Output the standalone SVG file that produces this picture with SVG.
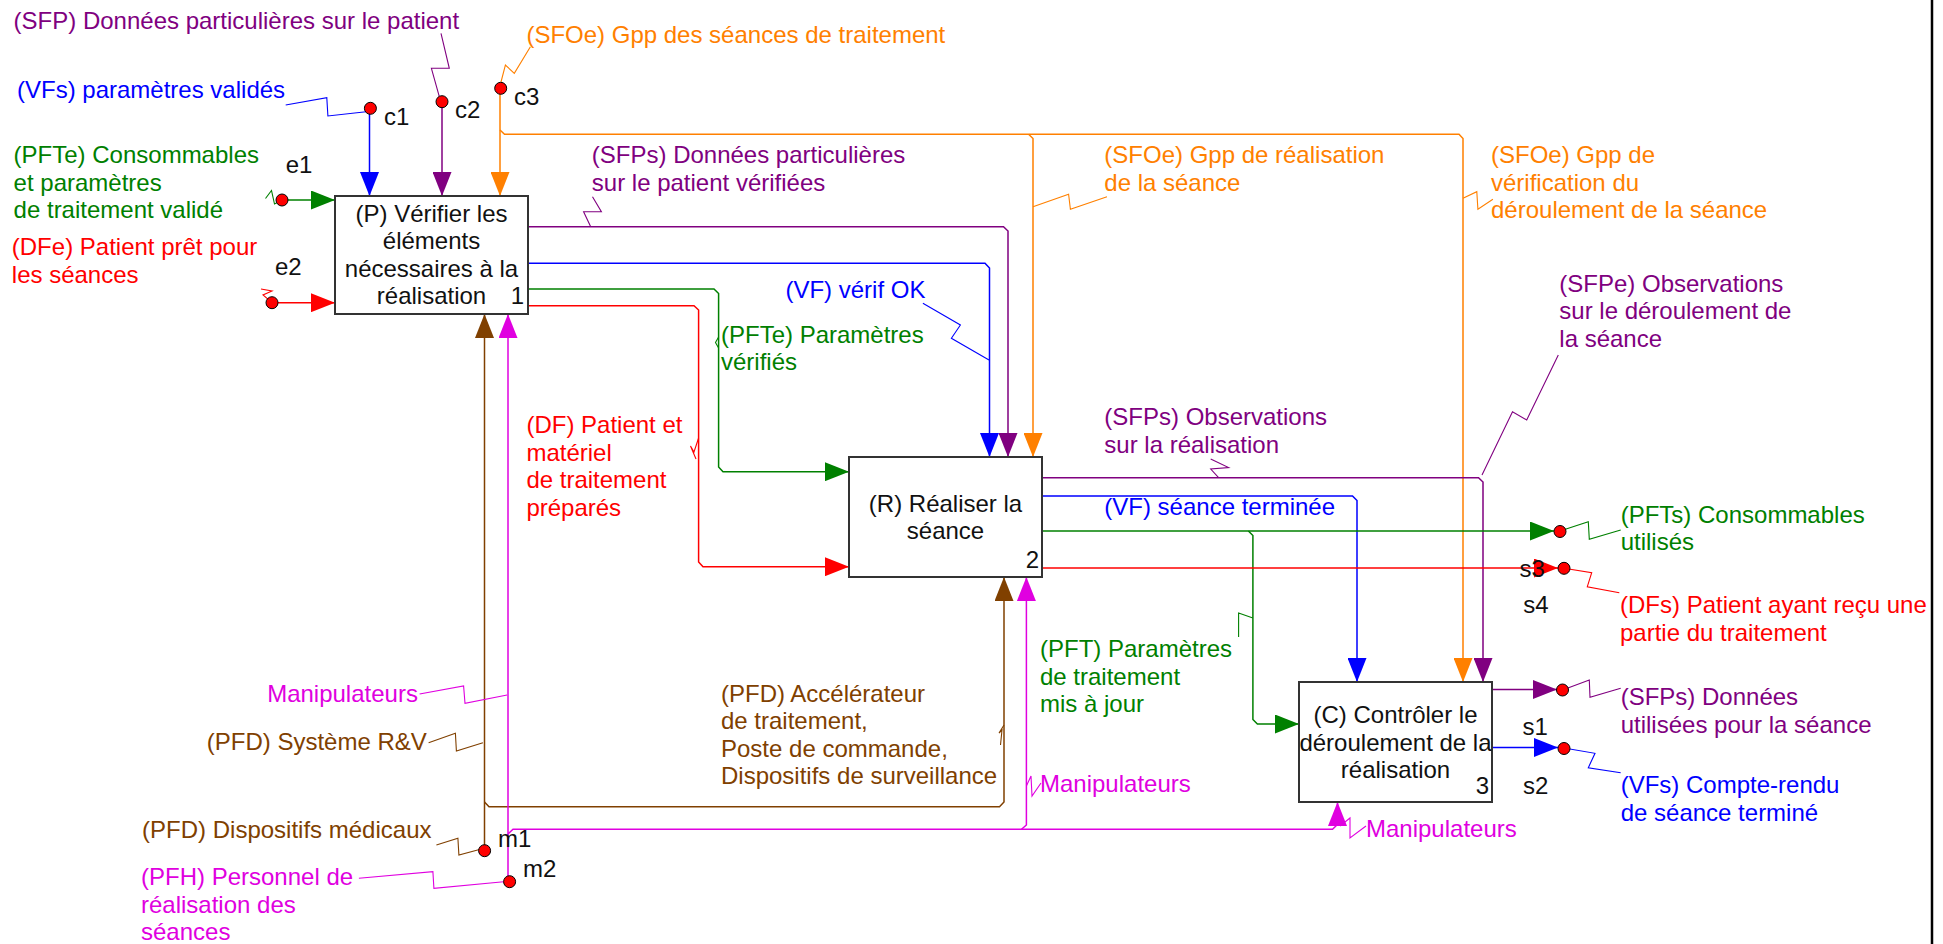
<svg xmlns="http://www.w3.org/2000/svg" width="1943" height="944" viewBox="0 0 1943 944">
<style>
text{font-family:"Liberation Sans",Arial,sans-serif;font-size:24px}
.box{fill:#fff;stroke:#333;stroke-width:2}
.nt{fill:#111;text-anchor:middle}
.num{fill:#111;text-anchor:end}
.k{fill:#111}
.c{fill:none;stroke-width:1.5}
.ld{fill:none;stroke-width:1.1}
.dot{fill:#f00;stroke:#000;stroke-width:1}
.bl{stroke:#0000ff}.pu{stroke:#800080}.or{stroke:#ff8000}.gr{stroke:#008000}.rd{stroke:#ff0000}.br{stroke:#804000}.mg{stroke:#e000e0}
.tbl{fill:#0000ff}.tpu{fill:#800080}.tor{fill:#ff8000}.tgr{fill:#008000}.trd{fill:#ff0000}.tbr{fill:#804000}.tmg{fill:#e000e0}
</style>
<defs>
<marker id="aBl" viewBox="0 0 24 19" refX="24" refY="9.5" markerWidth="24" markerHeight="19" markerUnits="userSpaceOnUse" orient="auto"><path d="M0,0L24,9.5L0,19z" fill="#0000ff"/></marker>
<marker id="aPu" viewBox="0 0 24 19" refX="24" refY="9.5" markerWidth="24" markerHeight="19" markerUnits="userSpaceOnUse" orient="auto"><path d="M0,0L24,9.5L0,19z" fill="#800080"/></marker>
<marker id="aOr" viewBox="0 0 24 19" refX="24" refY="9.5" markerWidth="24" markerHeight="19" markerUnits="userSpaceOnUse" orient="auto"><path d="M0,0L24,9.5L0,19z" fill="#ff8000"/></marker>
<marker id="aGr" viewBox="0 0 24 19" refX="24" refY="9.5" markerWidth="24" markerHeight="19" markerUnits="userSpaceOnUse" orient="auto"><path d="M0,0L24,9.5L0,19z" fill="#008000"/></marker>
<marker id="aRd" viewBox="0 0 24 19" refX="24" refY="9.5" markerWidth="24" markerHeight="19" markerUnits="userSpaceOnUse" orient="auto"><path d="M0,0L24,9.5L0,19z" fill="#ff0000"/></marker>
<marker id="aBr" viewBox="0 0 24 19" refX="24" refY="9.5" markerWidth="24" markerHeight="19" markerUnits="userSpaceOnUse" orient="auto"><path d="M0,0L24,9.5L0,19z" fill="#804000"/></marker>
<marker id="aMg" viewBox="0 0 24 19" refX="24" refY="9.5" markerWidth="24" markerHeight="19" markerUnits="userSpaceOnUse" orient="auto"><path d="M0,0L24,9.5L0,19z" fill="#e000e0"/></marker>
</defs>
<rect width="1943" height="944" fill="#fff"/>
<line x1="1932" y1="0" x2="1932" y2="944" stroke="#000" stroke-width="2.5"/>

<g id="connectors">
<path class="c bl" d="M369.5,108 V196" marker-end="url(#aBl)"/>
<path class="c pu" d="M442,102 V196" marker-end="url(#aPu)"/>
<path class="c or" d="M500,88 V196" marker-end="url(#aOr)"/>
<path class="c or" d="M500,130 L504.5,134.3 H1459 L1463,138.5 V682" marker-end="url(#aOr)"/>
<path class="c or" d="M1028.6,134.3 L1033,138.5 V457" marker-end="url(#aOr)"/>
<path class="c gr" d="M282,200 H335" marker-end="url(#aGr)"/>
<path class="c rd" d="M272,302.7 H335" marker-end="url(#aRd)"/>
<path class="c pu" d="M528,226.7 H1003.5 L1008,231 V457" marker-end="url(#aPu)"/>
<path class="c bl" d="M528,263.3 H985 L989.5,268 V457" marker-end="url(#aBl)"/>
<path class="c gr" d="M528,289 H714 L718.6,293.5 V467 L723,471.7 H849" marker-end="url(#aGr)"/>
<path class="c rd" d="M528,305.7 H694 L698.6,310 V562 L703,566.7 H849" marker-end="url(#aRd)"/>
<path class="c pu" d="M1042,477.7 H1478.5 L1483,482 V682" marker-end="url(#aPu)"/>
<path class="c bl" d="M1042,496 H1352.5 L1357,500.5 V682" marker-end="url(#aBl)"/>
<path class="c gr" d="M1042,531 H1554" marker-end="url(#aGr)"/>
<path class="c gr" d="M1248.4,531 L1252.9,535.5 V719.5 L1257.4,724 H1299" marker-end="url(#aGr)"/>
<path class="c rd" d="M1042,568 H1558" marker-end="url(#aRd)"/>
<path class="c pu" d="M1492,689.5 H1557" marker-end="url(#aPu)"/>
<path class="c bl" d="M1492,747.5 H1558" marker-end="url(#aBl)"/>
<path class="c br" d="M484.5,850.7 V314" marker-end="url(#aBr)"/>
<path class="c br" d="M484.5,802 L489,806.7 H999.5 L1004,802 V577" marker-end="url(#aBr)"/>
<path class="c mg" d="M508,881.7 V314" marker-end="url(#aMg)"/>
<path class="c mg" d="M508,834 L513,829.3 H1332.5 L1337.5,824.5 V802" marker-end="url(#aMg)"/>
<path class="c mg" d="M1021.5,829.3 L1026.4,825 V577" marker-end="url(#aMg)"/>

<path class="ld bl" d="M285.7,105 L326.8,97.7 L327.9,116 L366,111.7"/>
<path class="ld pu" d="M441,33.3 L449.3,68.3 L431.4,68.3 L439.3,96.7"/>
<path class="ld or" d="M530.4,46.7 L514.3,73.3 L505.4,65 L501,82"/>
<path class="ld gr" d="M282,200 L274.5,204 L271.5,190.5 L265.5,198.5"/>
<path class="ld rd" d="M272,302.7 L263,295 L272,291 L261,289"/>
<path class="ld pu" d="M592.5,196.7 L601.4,211.7 L583.6,211.7 L590.7,226.7"/>
<path class="ld bl" d="M922.9,303.3 L960.4,325 L951.4,338.3 L989,360"/>
<path class="ld gr" d="M718.6,337 L715.5,342.5 L718.6,348"/>
<path class="ld rd" d="M698.6,438 L694,452 L690.5,446 L696,459"/>
<path class="ld or" d="M1033,206.7 L1068.6,194.3 L1070.4,209.3 L1107,196.7"/>
<path class="ld or" d="M1463,198.3 L1476.8,191.7 L1477.9,209.3 L1492.9,199.3"/>
<path class="ld pu" d="M1558.3,355 L1526.7,420 L1512.5,411.7 L1482,475"/>
<path class="ld pu" d="M1210.7,459 L1228.6,467.5 L1210.7,469 L1218.6,477.7"/>
<path class="ld gr" d="M1560,531 L1588.3,521.7 L1589.3,539.3 L1620.7,530"/>
<path class="ld rd" d="M1564,568.3 L1591.7,572.7 L1587.3,586.7 L1619.3,592.7"/>
<path class="ld pu" d="M1562.5,690 L1589.3,680 L1590,697.3 L1620.7,688.3"/>
<path class="ld bl" d="M1564,748 L1595,753.3 L1588.3,767.7 L1620.7,772.7"/>
<path class="ld gr" d="M1252.9,618 L1238.6,613 L1238.6,637"/>
<path class="ld br" d="M1004,725 L999,733 L1002,730 L1000.5,745"/>
<path class="ld mg" d="M1026.4,786 L1031,776 L1032,796 L1041,783"/>
<path class="ld mg" d="M1340,826 L1350,818 L1350,838 L1366,826"/>
<path class="ld mg" d="M419.6,694 L463.6,686 L465,703.3 L507.1,695"/>
<path class="ld br" d="M428.6,742.7 L455.4,733.3 L456.4,751 L482.9,742.7"/>
<path class="ld br" d="M436.4,845 L457.9,838.3 L458.9,855 L480.4,849.3"/>
<path class="ld mg" d="M358.9,878.3 L432.9,871.7 L433.9,888.3 L503.6,881.7"/>

<circle class="dot" cx="370.4" cy="108.3" r="6"/>
<circle class="dot" cx="442" cy="101.7" r="6"/>
<circle class="dot" cx="500.7" cy="88.3" r="6"/>
<circle class="dot" cx="282" cy="200" r="6"/>
<circle class="dot" cx="272" cy="302.7" r="6"/>
<circle class="dot" cx="1560" cy="531.5" r="6"/>
<circle class="dot" cx="1564" cy="568.3" r="6"/>
<circle class="dot" cx="1562.5" cy="690" r="6"/>
<circle class="dot" cx="1564" cy="748.5" r="6"/>
<circle class="dot" cx="484.6" cy="850.7" r="6"/>
<circle class="dot" cx="509.6" cy="881.7" r="6"/>
</g>

<g id="node-P">
<rect class="box" x="335" y="196" width="193" height="118"/>
<text class="nt" x="431.5" y="221.7">(P) Vérifier les</text>
<text class="nt" x="431.5" y="249.2">éléments</text>
<text class="nt" x="431.5" y="276.7">nécessaires à la</text>
<text class="nt" x="431.5" y="304.2">réalisation</text>
<text class="num" x="524" y="304">1</text>
</g>
<g id="node-R">
<rect class="box" x="849" y="457" width="193" height="120"/>
<text class="nt" x="945.5" y="511.7">(R) Réaliser la</text>
<text class="nt" x="945.5" y="539.2">séance</text>
<text class="num" x="1039" y="568.3">2</text>
</g>
<g id="node-C">
<rect class="box" x="1299" y="682" width="193" height="120"/>
<text class="nt" x="1395.5" y="723.3">(C) Contrôler le</text>
<text class="nt" x="1395.5" y="750.8">déroulement de la</text>
<text class="nt" x="1395.5" y="778.3">réalisation</text>
<text class="num" x="1489" y="794">3</text>
</g>

<g id="labels">
<text class="tpu" x="13.6" y="29">(SFP) Données particulières sur le patient</text>
<text class="tor" x="526.4" y="43.3">(SFOe) Gpp des séances de traitement</text>
<text class="tbl" x="17" y="98.3">(VFs) paramètres validés</text>
<text class="k" x="384" y="125">c1</text>
<text class="k" x="455" y="118">c2</text>
<text class="k" x="514" y="105">c3</text>
<text class="tgr" x="13.6" y="163.3">(PFTe) Consommables</text>
<text class="tgr" x="13.6" y="190.8">et paramètres</text>
<text class="tgr" x="13.6" y="218.3">de traitement validé</text>
<text class="trd" x="11.8" y="255">(DFe) Patient prêt pour</text>
<text class="trd" x="11.8" y="282.5">les séances</text>
<text class="k" x="285.7" y="172.7">e1</text>
<text class="k" x="275" y="275">e2</text>
<text class="tpu" x="591.8" y="163.3">(SFPs) Données particulières</text>
<text class="tpu" x="591.8" y="190.8">sur le patient vérifiées</text>
<text class="tor" x="1104.3" y="163.3">(SFOe) Gpp de réalisation</text>
<text class="tor" x="1104.3" y="190.8">de la séance</text>
<text class="tor" x="1491" y="163.3">(SFOe) Gpp de</text>
<text class="tor" x="1491" y="190.8">vérification du</text>
<text class="tor" x="1491" y="218.3">déroulement de la séance</text>
<text class="tpu" x="1559.3" y="291.7">(SFPe) Observations</text>
<text class="tpu" x="1559.3" y="319.2">sur le déroulement de</text>
<text class="tpu" x="1559.3" y="346.7">la séance</text>
<text class="tbl" x="785.4" y="298.3">(VF) vérif OK</text>
<text class="tgr" x="721" y="342.7">(PFTe) Paramètres</text>
<text class="tgr" x="721" y="370.2">vérifiés</text>
<text class="trd" x="526.4" y="433.3">(DF) Patient et</text>
<text class="trd" x="526.4" y="460.8">matériel</text>
<text class="trd" x="526.4" y="488.3">de traitement</text>
<text class="trd" x="526.4" y="515.8">préparés</text>
<text class="tpu" x="1104.3" y="425">(SFPs) Observations</text>
<text class="tpu" x="1104.3" y="452.5">sur la réalisation</text>
<text class="tbl" x="1104.3" y="515">(VF) séance terminée</text>
<text class="tgr" x="1620.7" y="522.7">(PFTs) Consommables</text>
<text class="tgr" x="1620.7" y="550.2">utilisés</text>
<text class="k" x="1519.5" y="576.7">s3</text>
<text class="k" x="1523.3" y="613.3">s4</text>
<text class="trd" x="1620" y="613.3">(DFs) Patient ayant reçu une</text>
<text class="trd" x="1620" y="640.8">partie du traitement</text>
<text class="tgr" x="1040" y="657.3">(PFT) Paramètres</text>
<text class="tgr" x="1040" y="684.8">de traitement</text>
<text class="tgr" x="1040" y="712.3">mis à jour</text>
<text class="tpu" x="1620.7" y="705">(SFPs) Données</text>
<text class="tpu" x="1620.7" y="732.5">utilisées pour la séance</text>
<text class="k" x="1522.5" y="734.5">s1</text>
<text class="k" x="1523" y="794">s2</text>
<text class="tbl" x="1620.7" y="793.3">(VFs) Compte-rendu</text>
<text class="tbl" x="1620.7" y="820.8">de séance terminé</text>
<text class="tmg" x="417.9" y="701.7" text-anchor="end">Manipulateurs</text>
<text class="tbr" x="426.8" y="750" text-anchor="end">(PFD) Système R&amp;V</text>
<text class="tbr" x="721" y="701.7">(PFD) Accélérateur</text>
<text class="tbr" x="721" y="729.2">de traitement,</text>
<text class="tbr" x="721" y="756.7">Poste de commande,</text>
<text class="tbr" x="721" y="784.2">Dispositifs de surveillance</text>
<text class="tmg" x="1040" y="791.7">Manipulateurs</text>
<text class="tmg" x="1366" y="836.7">Manipulateurs</text>
<text class="tbr" x="142.1" y="838.3">(PFD) Dispositifs médicaux</text>
<text class="k" x="498" y="846.7">m1</text>
<text class="k" x="522.9" y="876.7">m2</text>
<text class="tmg" x="141" y="885">(PFH) Personnel de</text>
<text class="tmg" x="141" y="912.5">réalisation des</text>
<text class="tmg" x="141" y="940">séances</text>
</g>
</svg>
